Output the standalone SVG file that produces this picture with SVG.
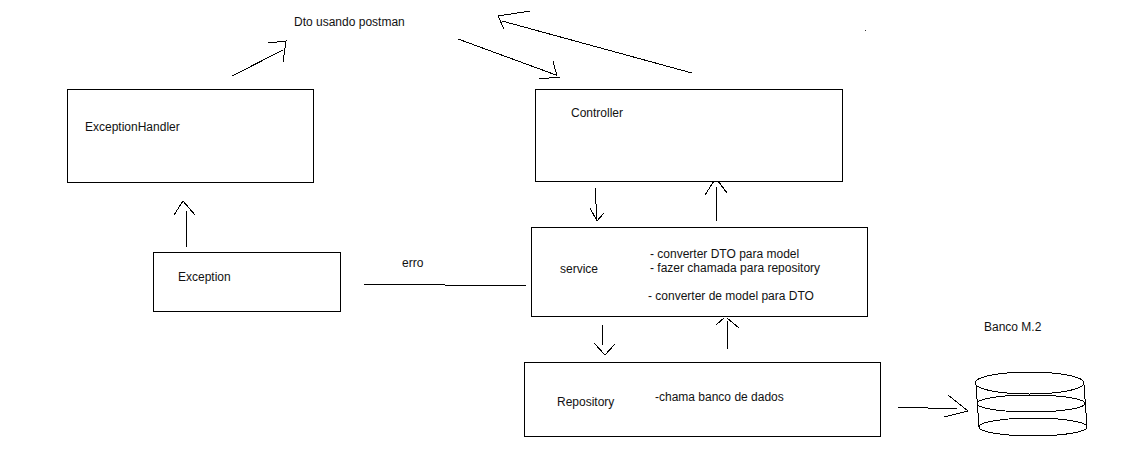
<svg xmlns="http://www.w3.org/2000/svg" width="1131" height="463" viewBox="0 0 1131 463">
<style>
.box{fill:#fff;stroke:#000;stroke-width:1}
.ln{fill:none;stroke:#000;stroke-width:1;shape-rendering:crispEdges}
text{font-family:"Liberation Sans",Arial,sans-serif;font-size:12px;fill:#111}
</style>
<rect width="1131" height="463" fill="#fff"/>
<g id="connectors">
<path class="ln" d="M232 76L283 50M268 43L286 41L283 62"/>
<path class="ln" d="M458 39L556 75M553 61L557 76M539 79L560 77"/>
<path class="ln" d="M692 73L502 21M530 11L498 16L504 29"/>
<path class="ln" d="M595 188L597 219M590 208L597 221L604 213"/>
<path class="ln" d="M716 221V187M705 195L714 181M718 181L727 193"/>
<path class="ln" d="M187 247L186 210M174 215L183 201L195 215"/>
<path class="ln" d="M602 325V345M594 343L605 355L615 344"/>
<path class="ln" d="M727 349V321M716 325L724 318M727 318L739 328"/>
<path class="ln" d="M364 284L445 284M445 285L526 285"/>
<path class="ln" d="M898 407L957 409M948 395L968 411L944 417"/>
</g>
<g id="exception-handler"><rect class="box" x="67.500" y="89.500" width="246" height="93"/><text x="85" y="131">ExceptionHandler</text></g>
<g id="controller"><rect class="box" x="535.500" y="89.500" width="307" height="92"/><text x="571" y="117">Controller</text></g>
<g id="exception"><rect class="box" x="153.500" y="252.500" width="187" height="59"/><text x="178" y="281">Exception</text></g>
<g id="service"><rect class="box" x="531.500" y="227.500" width="336" height="89"/><text x="560" y="273">service</text><text x="650" y="258">- converter DTO para model</text><text x="650" y="272">- fazer chamada para repository</text><text x="648" y="300">- converter de model para DTO</text></g>
<g id="repository"><rect class="box" x="524.500" y="362.500" width="356" height="74"/><text x="557" y="406">Repository</text><text x="655" y="401">-chama banco de dados</text></g>
<g id="banco">
<ellipse class="ln" cx="1029.500" cy="383" rx="54.500" ry="11"/>
<ellipse class="ln" cx="1031" cy="403.500" rx="54" ry="8.500"/>
<ellipse class="ln" cx="1033" cy="427" rx="54" ry="9"/>
<path class="ln" d="M976 385L979 427M1084 385L1087 427"/>
<text x="984" y="331">Banco M.2</text>
</g>
<g id="labels">
<text x="294" y="26">Dto usando postman</text>
<text x="402" y="267">erro</text>
<rect x="865" y="30" width="1" height="1" fill="#333"/>
</g>
</svg>
